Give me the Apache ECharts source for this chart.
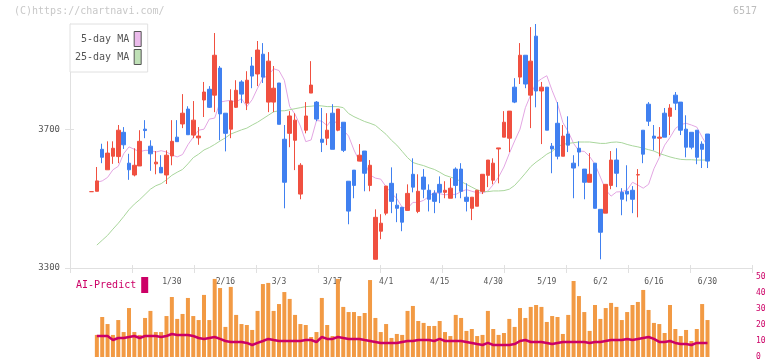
<!DOCTYPE html>
<html><head><meta charset="utf-8">
<script src="https://cdn.jsdelivr.net/npm/echarts@6/dist/echarts.min.js"></script>
<style>html,body{margin:0;padding:0;background:#fff}#c{width:772px;height:361px}</style>
</head><body><div id="c"></div>
<script>
// ---- data (index 0..115, one per trading day) ----
const opens = [3520,3521,3642,3583,3622,3621,3691,3602,3568,3594,
3700,3651,3600,3590,3568,3623,3677,3715,3758,3683,
3675,3784,3815,3798,3876,3746,3700,3763,3836,3775,
3882,3859,3916,3778,3778,3833,3671,3688,3668,3513,
3697,3804,3778,3671,3674,3746,3697,3720,3550,3582,
3608,3637,3538,3325,3406,3458,3544,3481,3475,3466,
3570,3463,3562,3524,3515,3541,3518,3501,3585,3585,
3504,3472,3478,3521,3567,3553,3643,3677,3674,3821,
3850,3913,3798,3968,3810,3821,3651,3717,3622,3686,
3602,3645,3585,3547,3602,3469,3458,3538,3611,3518,
3521,3524,3568,3697,3772,3680,3674,3746,3737,3798,
3778,3700,3691,3697,3657,3686];
const closes = [3520,3551,3619,3631,3645,3697,3655,3583,3596,3665,
3696,3629,3605,3574,3625,3665,3664,3746,3684,3726,
3680,3807,3763,3913,3744,3688,3781,3812,3801,3841,
3853,3928,3850,3896,3818,3714,3547,3738,3726,3596,
3738,3827,3729,3662,3697,3642,3758,3639,3464,3538,
3625,3573,3596,3446,3429,3536,3492,3472,3432,3515,
3533,3521,3527,3498,3492,3518,3524,3530,3538,3521,
3492,3504,3524,3570,3611,3602,3646,3720,3752,3778,
3913,3830,3896,3810,3821,3697,3643,3622,3680,3654,
3588,3634,3547,3570,3472,3403,3541,3611,3573,3498,
3513,3498,3569,3628,3723,3674,3677,3677,3761,3775,
3697,3648,3648,3619,3642,3608];
const highs = [3520,3591,3658,3665,3665,3712,3706,3629,3645,3697,
3726,3668,3637,3625,3639,3726,3726,3801,3766,3781,
3706,3836,3824,3977,3882,3746,3815,3841,3841,3867,
3908,3954,3948,3922,3882,3833,3712,3752,3746,3602,
3778,3896,3781,3761,3746,3772,3758,3720,3550,3582,
3657,3637,3611,3469,3455,3536,3590,3515,3475,3541,
3616,3570,3585,3541,3524,3564,3550,3559,3590,3602,
3544,3504,3524,3570,3611,3616,3646,3752,3752,3847,
3948,3913,3994,4003,3836,3821,3660,3778,3712,3737,
3625,3665,3585,3631,3602,3469,3541,3637,3645,3530,
3596,3536,3585,3697,3778,3712,3706,3761,3772,3807,
3778,3740,3691,3697,3665,3686];
const lows = [3520,3521,3602,3583,3600,3602,3643,3554,3564,3594,
3674,3580,3570,3574,3542,3596,3664,3703,3684,3674,
3655,3735,3761,3749,3668,3636,3674,3761,3775,3755,
3818,3824,3833,3749,3749,3714,3472,3648,3582,3498,
3688,3804,3723,3634,3654,3642,3694,3634,3426,3501,
3608,3521,3521,3325,3383,3452,3458,3432,3406,3466,
3518,3458,3501,3463,3458,3487,3501,3501,3501,3501,
3463,3438,3478,3513,3533,3541,3544,3677,3634,3775,
3830,3818,3703,3763,3657,3697,3573,3613,3622,3634,
3501,3593,3498,3547,3472,3325,3458,3527,3533,3452,
3492,3458,3446,3602,3709,3639,3622,3677,3683,3755,
3683,3619,3642,3599,3588,3588];
const ma5 = [null,3547,3551,3561,3583,3593,3629,3649,3642,3635,
3639,3639,3634,3638,3634,3626,3620,3627,3655,3677,
3697,3700,3729,3732,3778,3781,3783,3778,3788,3765,
3785,3818,3847,3855,3874,3869,3841,3765,3743,3709,
3664,3669,3725,3723,3710,3731,3711,3698,3680,3640,
3608,3605,3568,3559,3556,3534,3516,3500,3475,3472,
3489,3489,3495,3506,3519,3514,3511,3512,3512,3520,
3526,3521,3517,3516,3522,3540,3562,3591,3630,3666,
3700,3762,3799,3834,3845,3854,3811,3773,3719,3693,
3659,3637,3636,3621,3599,3562,3525,3507,3519,3520,
3525,3547,3539,3530,3541,3586,3618,3654,3676,3702,
3713,3717,3712,3706,3677,3651];
const ma25 = [null,3366,3380,3394,3412,3429,3448,3468,3484,3497,
3512,3527,3537,3543,3554,3567,3576,3584,3600,3618,
3628,3640,3647,3656,3666,3675,3686,3692,3698,3703,
3712,3720,3730,3740,3750,3753,3753,3756,3759,3762,
3765,3766,3768,3767,3765,3765,3765,3762,3745,3736,
3729,3722,3717,3711,3698,3685,3668,3654,3636,3618,
3604,3599,3595,3589,3584,3576,3567,3562,3557,3549,
3541,3533,3525,3520,3520,3522,3522,3523,3527,3538,
3555,3573,3592,3605,3616,3628,3636,3650,3656,3659,
3661,3663,3663,3663,3661,3659,3659,3662,3663,3661,
3656,3652,3649,3645,3641,3637,3630,3625,3620,3616,
3613,3612,3612,3611,3611,3611];
const volumes = [null,13.8,25,20.6,13.8,23.1,15.6,30.6,15.6,13.8,24.4,
28.8,15.6,15.6,25.6,37.5,23.8,26.9,36.9,25.6,23.1,
38.8,23.1,48.8,43.1,18.8,43.8,26.3,20.6,20,16.9,
28.8,45.6,46.3,28.8,33.1,40.6,36.3,26.3,20.6,20,
12.5,15.6,36.9,20,13.1,48.8,31.3,28.1,28.1,25.6,
27.5,48.1,24.4,15.6,20.6,11.9,14.4,13.8,28.8,31.9,
22.5,21.3,19.4,19.4,22.5,15.6,13.1,26.3,24.4,16.3,
17.5,13.1,13.8,28.8,17.5,13.8,15,23.8,18.8,30.6,
24.4,31.3,32.5,31.3,21.9,25.6,25,14.4,26.3,47.5,
38.1,28.1,16.3,32.5,23.8,30.6,33.8,31.3,23.1,28.1,
32.5,34.4,41.9,29.4,21.3,20.6,15,32.5,17.5,13.1,
16.9,10,17.5,33.1,23.1];
const aiPredict = [null,13.1,13.1,13.1,10.6,11.9,11.9,12.5,13.1,11.9,13.1,
13.1,13.1,12.5,13.1,14.4,13.8,13.8,13.8,13.1,11.9,
11.3,11.9,12.5,11.3,10,9.4,9.4,9.4,8.8,7.5,
8.8,10,11.3,10.6,10,10,10,10,10,10.6,
10.6,9.4,12.5,11.3,11.3,12.5,11.9,11.3,11.3,11.3,
10.6,10,9.4,8.8,8.8,8.8,8.8,9.4,10,10,
10.6,10.6,10.6,10,11.3,10,10,10,10,9.4,
8.8,8.1,7.5,8.8,7.5,7.5,7.5,7.5,8.1,10,
10.6,9.4,9.4,9.4,8.8,8.1,8.8,9.4,9.4,9.4,
9.4,9.4,8.8,9.4,9.4,10,10.6,10.6,10.6,11.3,
10.6,11.3,11.9,12.5,11.3,9.4,9.4,10,8.8,8.1,
8.1,7.5,8.8,8.8,8.8];
const dateLabels = ['1/30','2/16','3/3','3/17','4/1','4/15','4/30','5/19','6/2','6/16','6/30'];
const dateIdx = [15,25,35,45,55,65,75,85,95,105,115];
const priceTicks = [3300,3700];

// ---- build ----
const cats = opens.map(() => '');
dateIdx.forEach((k, j) => { cats[k] = dateLabels[j]; });
const ohlc = opens.map((o, i) => [o, closes[i], lows[i], highs[i]]);

const MONO = 'DejaVu Sans Mono';
const AX = '#e0e0e0';
const RED = '#f05040', BLUE = '#4080f0';

const chart = echarts.init(document.getElementById('c'));
chart.setOption({
  animation: false,
  backgroundColor: '#fff',
  grid: [
    {left: 91.5, width: 616, top: 24, height: 244},
    {left: 70, width: 682, top: 24, height: 244},
    {left: 91.5, width: 616, top: 277, height: 80}
  ],
  xAxis: [
    {gridIndex: 0, type: 'category', data: cats, boundaryGap: false,
     axisLine: {show: false}, axisTick: {show: false}, splitLine: {show: false},
     axisLabel: {interval: 0, margin: 10, fontSize: 8, color: '#555', fontFamily: MONO}},
    {gridIndex: 1, type: 'value', min: 0, max: 11, interval: 1, position: 'bottom',
     axisLine: {show: true, lineStyle: {color: AX}},
     axisTick: {show: true, length: 5, lineStyle: {color: AX}},
     axisLabel: {show: false}, splitLine: {show: false}},
    {gridIndex: 1, type: 'value', min: 0, max: 11, interval: 1, position: 'bottom',
     axisLine: {show: false},
     axisTick: {show: true, inside: true, length: 3, lineStyle: {color: AX}},
     axisLabel: {show: false}, splitLine: {show: false}},
    {gridIndex: 2, type: 'category', data: cats, boundaryGap: false, show: false}
  ],
  yAxis: [
    {gridIndex: 0, type: 'value', min: 3300, max: 4003, show: false, splitLine: {show: false}},
    {gridIndex: 1, type: 'value', min: 3300, max: 4003, position: 'left',
     axisLine: {show: true, lineStyle: {color: AX}},
     axisTick: {show: true, length: 5, customValues: priceTicks, lineStyle: {color: AX}},
     axisLabel: {customValues: priceTicks, margin: 10, fontSize: 9, color: '#555', fontFamily: MONO,
                 formatter: v => String(v)},
     splitLine: {show: false}},
    {gridIndex: 1, type: 'value', min: 3300, max: 4003, position: 'left',
     axisLine: {show: false},
     axisTick: {show: true, inside: true, length: 4, customValues: priceTicks, lineStyle: {color: AX}},
     axisLabel: {show: false}, splitLine: {show: false}},
    {gridIndex: 2, type: 'value', min: 0, max: 50, interval: 10, position: 'right', offset: 44.5,
     axisLine: {show: false}, axisTick: {show: false}, splitLine: {show: false},
     axisLabel: {margin: 4, fontSize: 8, color: '#cc0066', fontFamily: MONO}}
  ],
  legend: [
    {orient: 'vertical', left: 70, top: 24, align: 'right', selectedMode: false,
     padding: [7, 6, 7, 5], itemGap: 2, itemWidth: 7, itemHeight: 15, icon: 'rect',
     borderColor: '#e0e0e0', borderWidth: 1, backgroundColor: '#fff',
     textStyle: {fontFamily: MONO, fontSize: 10, color: '#555'},
     formatter: n => n === '5-day MA' ? ' 5-day MA' : n,
     data: [
       {name: '5-day MA', itemStyle: {color: '#ebbbeb', borderColor: '#555', borderWidth: 1}},
       {name: '25-day MA', itemStyle: {color: '#bfe0b6', borderColor: '#555', borderWidth: 1}}
     ]},
    {orient: 'vertical', left: 76, top: 277, align: 'right', selectedMode: false,
     padding: 0, itemWidth: 7, itemHeight: 16, icon: 'rect',
     textStyle: {fontFamily: MONO, fontSize: 10, color: '#cc0066'},
     data: [{name: 'AI-Predict', itemStyle: {color: '#cc0066', borderWidth: 0}}]}
  ],
  graphic: [
    {type: 'text', left: 14, top: 6, style: {text: '(C)https://chartnavi.com/', fill: '#c8c8c8', font: '10px "DejaVu Sans Mono"'}},
    {type: 'text', right: 15, top: 6, style: {text: '6517', fill: '#bdbdbd', font: '10px "DejaVu Sans Mono"'}}
  ],
  series: [
    {name: '5-day MA', type: 'line', xAxisIndex: 0, yAxisIndex: 0, data: ma5, symbol: 'none',
     z: 1, lineStyle: {color: '#e3a6e3', width: 1}, itemStyle: {color: '#e3a6e3'}},
    {name: '25-day MA', type: 'line', xAxisIndex: 0, yAxisIndex: 0, data: ma25, symbol: 'none',
     z: 1, lineStyle: {color: '#a9d69c', width: 1}, itemStyle: {color: '#a9d69c'}},
    {name: 'Price', type: 'candlestick', xAxisIndex: 0, yAxisIndex: 0, data: ohlc,
     barWidth: 4, clip: false, z: 3,
     itemStyle: {color: RED, color0: BLUE, borderColor: RED, borderColor0: BLUE, borderColorDoji: RED, borderWidth: 1}},
    {name: 'Volume', type: 'bar', xAxisIndex: 3, yAxisIndex: 3, data: volumes,
     barWidth: 4, clip: false, itemStyle: {color: '#f29a44'}},
    {name: 'AI-Predict', type: 'line', xAxisIndex: 3, yAxisIndex: 3, data: aiPredict, symbol: 'none',
     clip: false, z: 4, lineStyle: {color: '#cc0066', width: 2.5}, itemStyle: {color: '#cc0066'}}
  ]
});
</script>
</body></html>
